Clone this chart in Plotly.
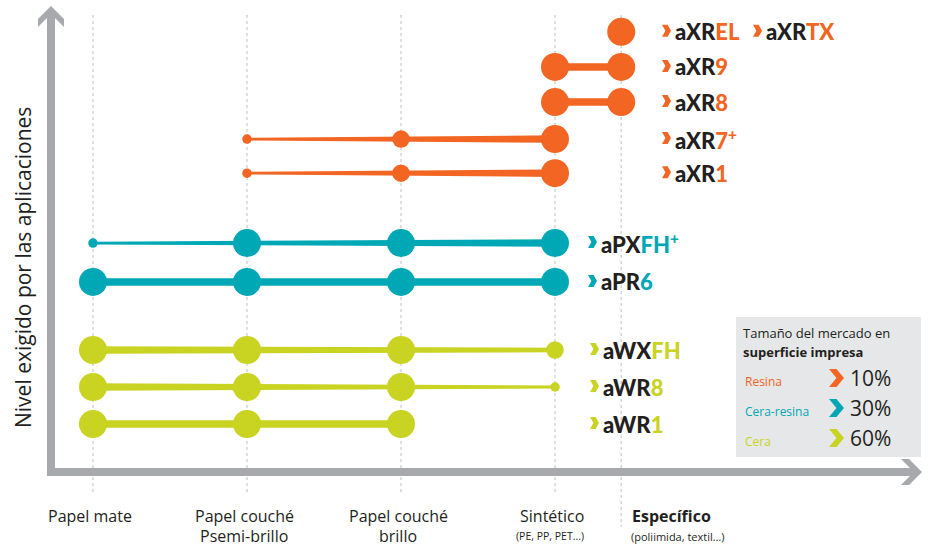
import plotly.graph_objects as go

# ---------------- data ----------------
categories = ["Papel mate", "Papel couché<br>Psemi-brillo", "Papel couché<br>brillo", "Sintético", "Específico"]
category_notes = ["", "", "", "(PE, PP, PET...)", "(poliimida, textil…)"]

product_prefix = ["aXR", "aXR", "aXR", "aXR", "aXR", "aPX", "aPR", "aWX", "aWR", "aWR"]
product_suffix = ["EL", "9", "8", "7<sup>+</sup>", "1", "FH<sup>+</sup>", "6", "FH", "8", "1"]
product_group = ["Resina"] * 5 + ["Cera-resina"] * 2 + ["Cera"] * 3

# suitability level per substrate (0 = not suitable, 1 = low, 2 = medium, 3 = high)
lvl_axrel = [0, 0, 0, 0, 3]
lvl_axr9 = [0, 0, 0, 3, 3]
lvl_axr8 = [0, 0, 0, 3, 3]
lvl_axr7p = [0, 1, 2, 3, 0]
lvl_axr1 = [0, 1, 2, 3, 0]
lvl_apxfhp = [1, 3, 3, 3, 0]
lvl_apr6 = [3, 3, 3, 3, 0]
lvl_awxfh = [3, 3, 3, 2, 0]
lvl_awr8 = [3, 3, 3, 1, 0]
lvl_awr1 = [3, 3, 3, 0, 0]
levels = [lvl_axrel, lvl_axr9, lvl_axr8, lvl_axr7p, lvl_axr1,
          lvl_apxfhp, lvl_apr6, lvl_awxfh, lvl_awr8, lvl_awr1]

legend_groups = ["Resina", "Cera-resina", "Cera"]
legend_share = [10, 30, 60]
extra_label = ("aXR", "TX")

# ---------------- layout / style ----------------
W, H = 930, 546
FONT = "Open Sans"
BRAND_FONT = "Lato"
DARK = "#231F20"
GREY = "#A7A9AC"
COLORS = {"Resina": "#F26522", "Cera-resina": "#00A8B5", "Cera": "#C9D321"}
LABEL_X = {"Resina": 662, "Cera-resina": 588, "Cera": 590}
EXTRA_X = 753

col_x = [0, 1, 2, 3, 3.43]
row_y = [10.6, 9.65, 8.7, 7.7, 6.78, 4.89, 3.84, 2.0, 1.0, 0.0]
PX_PER_X, X0_PX = 154.0, 93.0
PX_PER_Y, Y0_PX = 37.0, 424.0
DOT = {1: 9.5, 2: 17.5, 3: 28}
LINE_W = {1: 2.8, 2: 4.6, 3: 7.5}


def px(x):
    return x / W


def py(y):
    return 1 - y / H


def poly(points):
    return "M " + " L ".join(f"{px(a):.5f},{py(b):.5f}" for a, b in points) + " Z"


def chevron(left, yc, w, h, frac=0.5):
    t = w * frac
    return poly([(left, yc - h / 2), (left + t, yc - h / 2), (left + w, yc),
                 (left + t, yc + h / 2), (left, yc + h / 2), (left + w - t, yc)])


fig = go.Figure()

# connecting bars (tapered) + dots
for i, lv in enumerate(levels):
    color = COLORS[product_group[i]]
    idx = [j for j, v in enumerate(lv) if v > 0]
    y = row_y[i]
    if len(idx) >= 2:
        xa, xb = col_x[idx[0]], col_x[idx[-1]]
        ha = LINE_W[lv[idx[0]]] / 2 / PX_PER_Y
        hb = LINE_W[lv[idx[-1]]] / 2 / PX_PER_Y
        fig.add_trace(go.Scatter(
            x=[xa, xb, xb, xa, xa], y=[y + ha, y + hb, y - hb, y - ha, y + ha],
            mode="lines", fill="toself", fillcolor=color,
            line=dict(width=0, color=color), hoverinfo="skip", showlegend=False))
    fig.add_trace(go.Scatter(
        x=[col_x[j] for j in idx], y=[y] * len(idx), mode="markers",
        marker=dict(size=[DOT[lv[j]] for j in idx], color=color, opacity=1, line=dict(width=0)),
        hoverinfo="skip", showlegend=False))

shapes = []
# dotted guides
guide_bottom = [493, 493, 493, 493, 527]
for j, cx in enumerate(col_x):
    shapes.append(dict(type="line", xref="x", yref="paper", x0=cx, x1=cx,
                       y0=py(15), y1=py(guide_bottom[j]), layer="below",
                       line=dict(color="#CDCFD1", width=1.3, dash="dot")))

# axes with arrow heads
pts = [(51, 6), (64, 19), (64, 27), (55, 18), (55, 468), (910, 468), (901, 459), (909, 459),
       (922, 472), (909, 485), (901, 485), (910, 476), (47, 476), (47, 18), (38, 27), (38, 19)]
shapes.append(dict(type="path", xref="paper", yref="paper", path=poly(pts),
                   fillcolor=GREY, line=dict(width=0)))

# legend box
shapes.append(dict(type="rect", xref="paper", yref="paper", x0=px(736), x1=px(921),
                   y0=py(457), y1=py(317), fillcolor="#E6E7E8", line=dict(width=0), layer="below"))

annotations = []


def brand_label(left, yrow, prefix, suffix, c):
    yc_px = Y0_PX - PX_PER_Y * yrow
    shapes.append(dict(type="path", xref="paper", yref="paper",
                       path=chevron(left, yc_px - 1, 9, 12, 0.62), fillcolor=c, line=dict(width=0)))
    annotations.append(dict(x=px(left + 10.5), y=yrow, xref="paper", yref="y",
                            text=(f"<span style='color:{DARK}'>{prefix}</span>"
                                  f"<span style='color:{c}'>{suffix}</span>"),
                            showarrow=False, xanchor="left", yanchor="middle",
                            font=dict(family=BRAND_FONT, size=22, weight=900)))


# product labels
for i in range(len(levels)):
    g = product_group[i]
    brand_label(LABEL_X[g], row_y[i], product_prefix[i], product_suffix[i], COLORS[g])
brand_label(EXTRA_X, row_y[0], extra_label[0], extra_label[1], COLORS["Resina"])

# category labels
for j, cat in enumerate(categories):
    bold = j == len(categories) - 1
    lines = cat.split("<br>")
    xa = col_x[j]
    anchor = "center"
    xref = "x"
    if bold:
        xa, anchor, xref = px(630), "left", "paper"
    for k, ln in enumerate(lines):
        annotations.append(dict(x=xa, y=py(516 + 20 * k), xref=xref, yref="paper",
                                text=f"<b>{ln}</b>" if bold else ln, showarrow=False,
                                xanchor=anchor, yanchor="middle", xshift=0 if bold else -3,
                                font=dict(family=FONT, size=16, color=DARK)))
    if category_notes[j]:
        annotations.append(dict(x=xa, y=py(536), xref=xref, yref="paper",
                                text=category_notes[j], showarrow=False, xanchor=anchor,
                                yanchor="middle", xshift=-1 if bold else -5,
                                font=dict(family=FONT, size=11 if bold else 10.5, color=DARK)))

# y axis title
annotations.append(dict(x=px(23), y=py(268), xref="paper", yref="paper",
                        text="Nivel exigido por las aplicaciones", textangle=-90, showarrow=False,
                        xanchor="center", yanchor="middle",
                        font=dict(family=FONT, size=21, color=DARK)))

# legend texts
annotations.append(dict(x=px(741), y=py(333), xref="paper", yref="paper", text="Tamaño del mercado en",
                        showarrow=False, xanchor="left", yanchor="middle",
                        font=dict(family=FONT, size=13, color=DARK)))
annotations.append(dict(x=px(741), y=py(352), xref="paper", yref="paper", text="<b>superficie impresa</b>",
                        showarrow=False, xanchor="left", yanchor="middle",
                        font=dict(family=FONT, size=13, color=DARK)))
leg_y = [378, 408, 438]
for k, g in enumerate(legend_groups):
    c = COLORS[g]
    annotations.append(dict(x=px(743), y=py(leg_y[k] + 3), xref="paper", yref="paper", text=g,
                            showarrow=False, xanchor="left", yanchor="middle",
                            font=dict(family=FONT, size=12, color=c)))
    annotations.append(dict(x=px(848), y=py(leg_y[k]), xref="paper", yref="paper",
                            text=f"{legend_share[k]}%", showarrow=False, xanchor="left",
                            yanchor="middle", font=dict(family=FONT, size=21, color=DARK)))
    shapes.append(dict(type="path", xref="paper", yref="paper",
                       path=chevron(829, leg_y[k], 15, 18), fillcolor=c, line=dict(width=0)))

fig.update_layout(
    width=W, height=H, autosize=False,
    margin=dict(l=0, r=0, t=0, b=0),
    paper_bgcolor="white", plot_bgcolor="white",
    xaxis=dict(visible=False, range=[(0 - X0_PX) / PX_PER_X, (W - X0_PX) / PX_PER_X], fixedrange=True),
    yaxis=dict(visible=False, range=[(Y0_PX - H) / PX_PER_Y, Y0_PX / PX_PER_Y], fixedrange=True),
    shapes=shapes, annotations=annotations, showlegend=False,
    font=dict(family=FONT, color=DARK),
)

fig.write_html("out.html", config={"displayModeBar": False},
               post_script="document.body.style.margin='0';")
